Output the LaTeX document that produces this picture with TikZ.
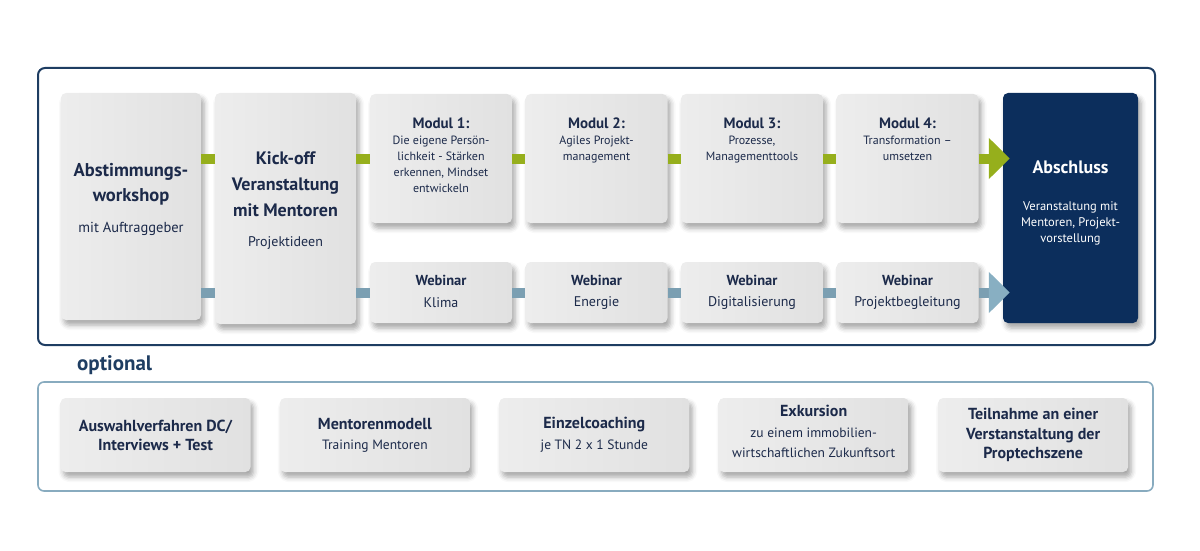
\documentclass[tikz,border=0pt]{standalone}
\usepackage{fontspec}
\setmainfont{PT Sans}
\usetikzlibrary{arrows.meta,shadows.blur}
\definecolor{navy}{HTML}{1C2A4A}
\definecolor{darknavy}{HTML}{0C2E5C}
\definecolor{framenavy}{HTML}{1E3D62}
\definecolor{lightframe}{HTML}{88ABBF}
\definecolor{midgreen}{HTML}{96AF1C}
\definecolor{steelblue}{HTML}{7B9FB2}
\definecolor{arrowblue}{HTML}{88AFC2}
\definecolor{boxlight}{HTML}{EDEDED}
\definecolor{boxdark}{HTML}{E1E1E1}
\tikzset{
    box/.style={
        rounded corners=5pt, inner sep=0pt,
        left color=boxlight, right color=boxdark,
        blur shadow={shadow xshift=3pt, shadow yshift=-5pt,
            shadow blur radius=5pt, shadow opacity=35}
    },
    darkbox/.style={
        box, left color=darknavy, right color=darknavy
    },
    bigtitle/.style={
        text=navy, align=center,
        font=\bfseries\fontsize{18.5}{25}\selectfont
    },
    subtitle/.style={
        text=navy, align=center,
        font=\fontsize{14}{18}\selectfont
    },
    modtitle/.style={
        text=navy, align=center,
        font=\bfseries\fontsize{15}{18}\selectfont
    },
    modtext/.style={
        text=navy, align=center, inner sep=0pt,
        font=\fontsize{12}{16}\selectfont
    },
    optbold/.style={
        text=navy, align=center,
        font=\bfseries\fontsize{16}{19.5}\selectfont
    },
    opttext/.style={
        text=navy, align=center,
        font=\fontsize{13.5}{20}\selectfont
    },
    gbar/.style={line width=10pt, midgreen},
    bbar/.style={line width=10pt, steelblue}
}
\begin{document}
\begin{tikzpicture}[x=1pt,y=-1pt]
\useasboundingbox (0,0) rectangle (1200,551);

\def\modY{158.5}
\def\webY{292.5}

% frames
\draw[framenavy, line width=2pt, rounded corners=7pt] (38,68) rectangle (1155,345);
\draw[lightframe, line width=1.6pt, rounded corners=6pt] (38,382) rectangle (1153,491);
\node[text=framenavy, anchor=west, inner sep=0pt,
      font=\bfseries\fontsize{21}{24}\selectfont] (optional) at (77,365) {optional};

% first two columns
\node[box, minimum width=140, minimum height=227] (abst) at (131,206.5) {};
\node[bigtitle] (abstT) at (131,184.5) {Abstimmungs-\\workshop};
\node[subtitle, font=\fontsize{14.5}{18}\selectfont] (abstS) at (131,229) {mit Auftraggeber};

\node[box, minimum width=141, minimum height=231] (kick) at (285.5,208.5) {};
\node[bigtitle, font=\bfseries\fontsize{18}{26}\selectfont] (kickT) at (285.5,184) {Kick-off\\Veranstaltung\\mit Mentoren};
\node[subtitle] (kickS) at (285.5,243) {Projektideen};

% modules (top row)
\foreach \i/\ttl/\txt in {
    1/{Modul 1:}/{Die eigene Persön-\\lichkeit - Stärken\\erkennen, Mindset\\entwickeln},
    2/{Modul 2:}/{Agiles Projekt-\\management},
    3/{Modul 3:}/{Prozesse,\\Managementtools},
    4/{Modul 4:}/{Transformation –\\umsetzen}} {
  \pgfmathsetmacro{\mx}{441+155.5*(\i-1)}
  \node[box, minimum width=142, minimum height=129] (m\i) at (\mx,\modY) {};
  \node[modtitle] (m\i T) at (\mx,123) {\ttl};
  \node[modtext, anchor=north] (m\i S) at (\mx,136) {\txt};
}

% webinars (bottom row)
\foreach \i/\txt in {1/Klima, 2/Energie, 3/Digitalisierung, 4/Projektbegleitung} {
  \pgfmathsetmacro{\mx}{441+155.5*(\i-1)}
  \node[box, minimum width=142, minimum height=61] (w\i) at (\mx,\webY) {};
  \node[modtitle, font=\bfseries\fontsize{14.5}{18}\selectfont] (w\i T) at (\mx,280) {Webinar};
  \node[subtitle] (w\i S) at (\mx,303) {\txt};
}

% closing event
\node[darkbox, minimum width=135, minimum height=230] (absch) at (1070.5,208) {};
\node[text=white, font=\bfseries\fontsize{18}{20}\selectfont] (abschT) at (1070.5,167) {Abschluss};
\node[modtext, text=white, font=\fontsize{12.5}{16}\selectfont] (abschS) at (1070.5,223) {Veranstaltung mit\\Mentoren, Projekt-\\vorstellung};

% connectors
\draw[gbar] (abst.east |- m1) -- (kick.west |- m1);
\draw[bbar] (abst.east |- w1) -- (kick.west |- w1);
\draw[gbar] (kick.east |- m1) -- (m1);
\draw[bbar] (kick.east |- w1) -- (w1);
\foreach \a/\b in {1/2, 2/3, 3/4} {
  \draw[gbar] (m\a) -- (m\b);
  \draw[bbar] (w\a) -- (w\b);
}
\draw[gbar, -{Triangle[width=40pt, length=21pt]}, shorten >=-7pt] (m4) -- (absch.west |- m4);
\draw[bbar, -{Triangle[width=40pt, length=21pt, color=arrowblue]}, shorten >=-7pt] (w4) -- (absch.west |- w4);

% optional offers
\foreach \i/\ty/\ttl/\sy/\txt in {
    1/435.5/{Auswahlverfahren DC/\\Interviews + Test}/0/{},
    2/424/{Mentorenmodell}/446/{Training Mentoren},
    3/425/{Einzelcoaching}/446/{je TN 2 x 1 Stunde},
    4/411/{Exkursion}/443/{zu einem immobilien-\\wirtschaftlichen Zukunftsort},
    5/435/{Teilnahme an einer\\Verstanstaltung der\\Proptechszene}/0/{}} {
  \pgfmathsetmacro{\ox}{155.5+219.4*(\i-1)}
  \node[box, minimum width=190, minimum height=74] (o\i) at (\ox,435) {};
  \node[optbold] (o\i T) at (\ox,\ty) {\ttl};
  \node[opttext] (o\i S) at (\ox,\sy) {\txt};
}
\end{tikzpicture}
\end{document}
